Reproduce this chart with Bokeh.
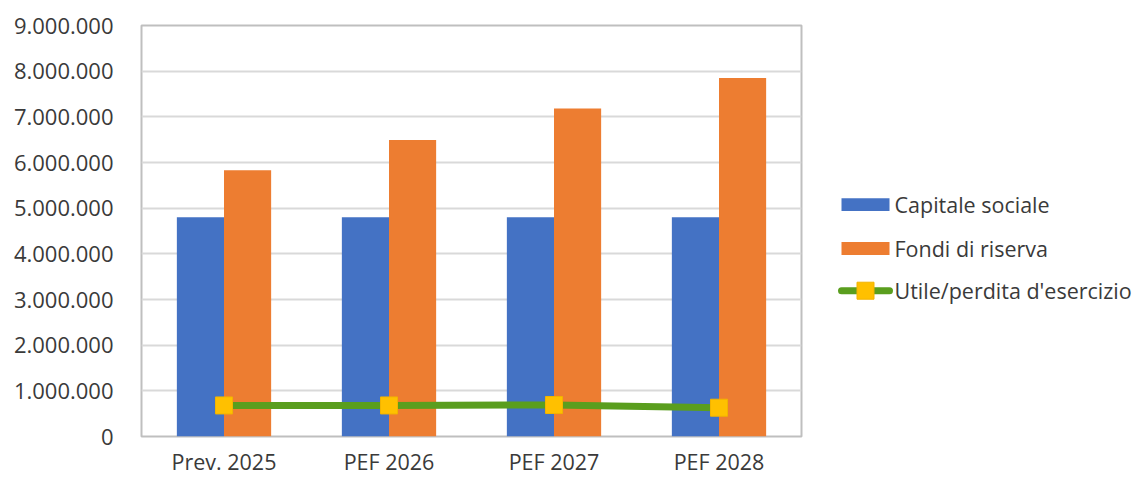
from bokeh.plotting import figure
from bokeh.models import (ColumnDataSource, FactorRange, Range1d, FixedTicker,
                          CustomJSTickFormatter)
from bokeh.transform import dodge
from bokeh.layouts import row
from bokeh.core.properties import value
from bokeh.embed import file_html
from bokeh.resources import INLINE

# --- data -------------------------------------------------------------------
categories = ["Prev. 2025", "PEF 2026", "PEF 2027", "PEF 2028"]
capitale_sociale = [4800000, 4800000, 4800000, 4800000]
fondi_riserva = [5830000, 6490000, 7180000, 7850000]
utile_esercizio = [680000, 680000, 690000, 630000]
series_names = ["Capitale sociale", "Fondi di riserva", "Utile/perdita d'esercizio"]
y_ticks = [0, 1000000, 2000000, 3000000, 4000000, 5000000,
           6000000, 7000000, 8000000, 9000000]

# --- style ------------------------------------------------------------------
BLUE = "#4472C4"
ORANGE = "#ED7D31"
GREEN = "#5A9E1E"
GOLD = "#FFC000"
GOLD_EDGE = "#F2B300"
FONT = "Open Sans"
TEXT = "#3A3A3A"
BAR_W = 2 / 7          # two bars per group, 150 % gap width
TOP, BOTTOM = 25, 40   # borders shared by both panels of the row
HEIGHT = 478

src = ColumnDataSource(dict(cat=categories, cap=capitale_sociale,
                            fondi=fondi_riserva, utile=utile_esercizio))

p = figure(x_range=FactorRange(*categories), y_range=Range1d(0, 9000000),
           width=820, height=HEIGHT, output_backend="svg", toolbar_location=None,
           min_border_left=141, min_border_right=19, min_border_top=TOP,
           min_border_bottom=BOTTOM)

p.vbar(x=dodge("cat", -BAR_W / 2, range=p.x_range), top="cap", width=BAR_W,
       source=src, fill_color=BLUE, line_color=None)
p.vbar(x=dodge("cat", BAR_W / 2, range=p.x_range), top="fondi", width=BAR_W,
       source=src, fill_color=ORANGE, line_color=None)
p.line(x="cat", y="utile", source=src, line_color=GREEN, line_width=7)
p.scatter(x="cat", y="utile", source=src, marker="square", size=17,
          fill_color=GOLD, line_color=GOLD_EDGE, line_width=1)

# axes
p.yaxis.ticker = FixedTicker(ticks=y_ticks)
p.yaxis.formatter = CustomJSTickFormatter(
    code=r"return Math.round(tick).toString().replace(/\B(?=(\d{3})+(?!\d))/g, '.');")
for ax in (p.xaxis, p.yaxis):
    ax.axis_line_color = None
    ax.major_tick_line_color = None
    ax.minor_tick_line_color = None
    ax.major_tick_in = 0
    ax.major_tick_out = 0
    ax.major_label_text_font = FONT
    ax.major_label_text_color = TEXT
p.yaxis.major_label_text_font_size = "22px"
p.xaxis.major_label_text_font_size = "21.5px"
p.yaxis.major_label_standoff = 28
p.xaxis.major_label_standoff = 10

p.xgrid.grid_line_color = None
p.ygrid.grid_line_color = "#D9D9D9"
p.ygrid.grid_line_width = 2
p.outline_line_color = "#BFBFBF"
p.outline_line_width = 2
p.background_fill_color = "white"
p.border_fill_color = "white"

# --- legend panel (data units equal screen pixels) ----------------------------
leg = figure(width=319, height=HEIGHT, x_range=Range1d(0, 319),
             y_range=Range1d(HEIGHT - BOTTOM, TOP),
             output_backend="svg", toolbar_location=None,
             min_border_left=0, min_border_right=0,
             min_border_top=TOP, min_border_bottom=BOTTOM,
             x_axis_type=None, y_axis_type=None)
leg.outline_line_color = None
leg.grid.visible = False
leg.border_fill_color = "white"

sw_left, sw_right, sw_h = 21, 69, 13
row_y = [205, 249, 291.5]
leg.quad(left=[sw_left], right=[sw_right], top=[row_y[0] - sw_h / 2],
         bottom=[row_y[0] + sw_h / 2], fill_color=BLUE, line_color=None)
leg.quad(left=[sw_left], right=[sw_right], top=[row_y[1] - sw_h / 2],
         bottom=[row_y[1] + sw_h / 2], fill_color=ORANGE, line_color=None)
leg.line(x=[sw_left, sw_right], y=[row_y[2], row_y[2]], line_color=GREEN,
         line_width=7, line_cap="round")
leg.scatter(x=[(sw_left + sw_right) / 2], y=[row_y[2]], marker="square", size=17,
            fill_color=GOLD, line_color=GOLD_EDGE, line_width=1)
leg.text(x=[sw_right + 5] * 3, y=row_y, text=series_names,
         text_font=value(FONT), text_font_size="21.5px", text_color=TEXT,
         text_baseline="middle", text_align="left")

layout = row(p, leg)
open("out.html", "w").write(file_html(layout, INLINE))
